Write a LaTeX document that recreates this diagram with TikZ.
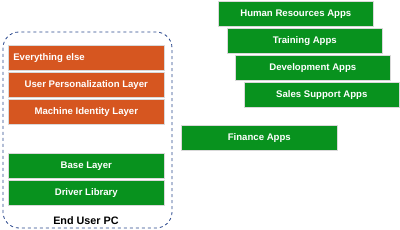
\documentclass[tikz,border=0pt]{standalone}
\usepackage{fontspec}
\setmainfont{Liberation Sans}
\begin{document}
\begin{tikzpicture}[x=1pt,y=-1pt,
  layer/.style={draw=white!85!black, line width=0.6pt, text=white, font=\bfseries\fontsize{9.6}{11}\selectfont, inner sep=0pt},
  orangebox/.style={layer, fill=orng},
  greenbox/.style={layer, fill=grn}]
\definecolor{orng}{RGB}{214,86,32}
\definecolor{grn}{RGB}{8,146,30}
\definecolor{dblue}{RGB}{40,70,140}
\useasboundingbox (0,0) rectangle (400,230);
% PC container
\draw[dblue, dashed, line width=0.8pt, rounded corners=16pt] (3,32) rectangle (172,228);
\node[orangebox, minimum width=156pt, minimum height=25.5pt, anchor=north west, text width=146pt, align=left] (ee) at (8,45) {Everything else};
\node[orangebox, minimum width=156pt, minimum height=25.5pt, anchor=north west] (up) at (8,72) {User Personalization Layer};
\node[orangebox, minimum width=156pt, minimum height=25.5pt, anchor=north west] (mi) at (8,99) {Machine Identity Layer};
\node[greenbox, minimum width=156pt, minimum height=25.5pt, anchor=north west] (bl) at (8,153) {Base Layer};
\node[greenbox, minimum width=156pt, minimum height=25.5pt, anchor=north west] (dl) at (8,180) {Driver Library};
\node[font=\bfseries\fontsize{10.8}{12}\selectfont, text=black] (pc) at (86,221) {End User PC};
% apps
\node[greenbox, minimum width=155pt, minimum height=25.5pt, anchor=north west] (hr) at (218,1) {Human Resources Apps};
\node[greenbox, minimum width=155pt, minimum height=25.5pt, anchor=north west] (tr) at (227,28) {Training Apps};
\node[greenbox, minimum width=155pt, minimum height=25.5pt, anchor=north west] (dv) at (235,55) {Development Apps};
\node[greenbox, minimum width=155pt, minimum height=25.5pt, anchor=north west] (ss) at (244,82) {Sales Support Apps};
\node[greenbox, minimum width=156pt, minimum height=25.5pt, anchor=north west] (fa) at (181,125) {Finance Apps};
\end{tikzpicture}
\end{document}
